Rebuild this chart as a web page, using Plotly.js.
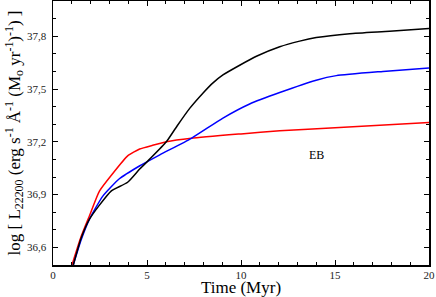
<!DOCTYPE html>
<html>
<head>
<meta charset="utf-8">
<script src="https://cdn.plot.ly/plotly-3.0.1.min.js"></script>
<style>html,body{margin:0;padding:0;background:#fff;}#chart{width:436px;height:297px;}</style>
</head>
<body>
<div id="chart"></div>
<script>
const blackX = [1.08, 1.49, 1.94, 2.47, 3.09, 3.97, 4.61, 5.13, 6.03, 6.6, 7.27, 7.96, 8.51, 9.04, 9.93, 10.82, 12.06, 13.12, 14.0, 15.78, 17.9, 20];
const blackY = [36.50, 36.65, 36.76, 36.84, 36.92, 36.97, 37.045, 37.10, 37.20, 37.29, 37.39, 37.475, 37.535, 37.58, 37.635, 37.686, 37.74, 37.772, 37.792, 37.814, 37.828, 37.844];
const blueX = [1.08, 1.49, 1.94, 2.64, 3.53, 4.62, 5.68, 7.36, 9.04, 10.46, 12.06, 14.0, 15.07, 17.55, 20];
const blueY = [36.50, 36.64, 36.76, 36.89, 36.99, 37.064, 37.126, 37.22, 37.335, 37.415, 37.48, 37.55, 37.576, 37.60, 37.62];
const redX = [1.01, 1.49, 1.94, 2.47, 3.18, 3.97, 4.61, 5.3, 6.03, 7.36, 10.0, 12.06, 15.0, 20];
const redY = [36.50, 36.66, 36.78, 36.92, 37.02, 37.12, 37.159, 37.18, 37.20, 37.22, 37.245, 37.263, 37.28, 37.31];
const xTickVals = [0, 5, 10, 15, 20];
const yTickVals = [36.6, 36.9, 37.2, 37.5, 37.8];
const labelText = "EB";
const labelX = 14.0, labelY = 37.126;

const font = '"Liberation Serif", "Times New Roman", Times, serif';
const traces = [
  {x: redX, y: redY, mode: 'lines', line: {color: '#ff0000', width: 1.5, shape: 'spline', smoothing: 0.5}},
  {x: blueX, y: blueY, mode: 'lines', line: {color: '#0000ff', width: 1.5, shape: 'spline', smoothing: 0.5}},
  {x: blackX, y: blackY, mode: 'lines', line: {color: '#000000', width: 1.5, shape: 'spline', smoothing: 0.5}}
];
const axisCommon = {
  showline: true, linecolor: '#000', linewidth: 1.5, mirror: 'ticks',
  ticks: 'inside', ticklen: 5, tickwidth: 1, tickcolor: '#000',
  showgrid: false, zeroline: false,
  tickfont: {family: font, size: 11, color: '#222'}
};
const layout = {
  width: 436, height: 297,
  margin: {l: 53, r: 7, t: 1, b: 32},
  paper_bgcolor: '#fff', plot_bgcolor: '#fff',
  font: {family: font},
  showlegend: false,
  separators: ',.',
  xaxis: Object.assign({}, axisCommon, {
    range: [0, 20], tickvals: xTickVals, ticktext: xTickVals.map(String),
    ticklabelstandoff: -1,
    minor: {dtick: 1, ticklen: 3, ticks: 'inside', tickcolor: '#000'},
    title: {text: 'Time (Myr)', font: {family: font, size: 17, color: '#000'}, standoff: 0}
  }),
  yaxis: Object.assign({}, axisCommon, {
    range: [36.5, 38.0], tickvals: yTickVals, tickformat: '.1f',
    ticklabelstandoff: 3,
    minor: {dtick: 0.1, tick0: 36.5, ticklen: 3, ticks: 'inside', tickcolor: '#000'},
    title: {text: 'log [ L<sub>22200</sub> (erg s<sup>-1</sup> Å<sup>-1</sup> (M<sub>o</sub> yr<sup>-1</sup>)<sup>-1</sup>) ]', font: {family: font, size: 17, color: '#000'}, standoff: 2}
  }),
  annotations: [{x: labelX, y: labelY, xref: 'x', yref: 'y', text: labelText, showarrow: false, font: {family: font, size: 12, color: '#000'}}]
};
Plotly.newPlot('chart', traces, layout, {displayModeBar: false, staticPlot: true});
</script>
</body>
</html>
